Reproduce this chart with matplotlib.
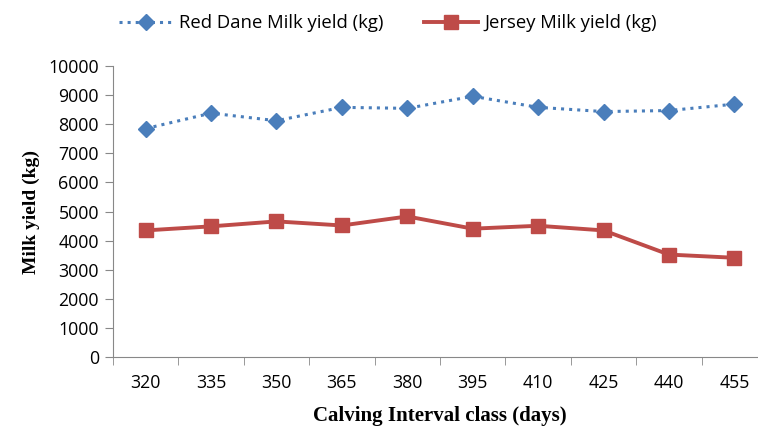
import matplotlib.pyplot as plt
import numpy as np

# Data
intervals = ["320", "335", "350", "365", "380", "395", "410", "425", "440", "455"]
red_dane = [7850, 8380, 8120, 8580, 8545, 8960, 8580, 8435, 8470, 8690]
jersey = [4350, 4490, 4660, 4520, 4830, 4410, 4510, 4350, 3520, 3410]
y_ticks = [0, 1000, 2000, 3000, 4000, 5000, 6000, 7000, 8000, 9000, 10000]


def make_chart():
    fig = plt.figure(figsize=(7.58, 4.26), dpi=100)
    # the plot area runs a little past the right edge of the picture
    ax = fig.add_axes([0.149, 0.162, 0.863, 0.683])

    x = np.arange(len(intervals))
    ax.plot(x, red_dane, linestyle=':', linewidth=2.2, color='#4a7ebb',
            marker='D', markersize=8.5, markerfacecolor='#4a7ebb',
            markeredgecolor='#4a7ebb', label='Red Dane Milk yield (kg)', clip_on=False)
    ax.plot(x, jersey, linestyle='-', linewidth=2.8, color='#be4b48',
            marker='s', markersize=10.5, markerfacecolor='#be4b48',
            markeredgecolor='#be4b48', label='Jersey Milk yield (kg)', clip_on=False)

    ax.set_xlim(-0.5, len(intervals) - 0.5)
    ax.set_ylim(0, 10000)
    ax.set_yticks(y_ticks)
    ax.set_yticklabels([str(v) for v in y_ticks], fontsize=12.8, family='Open Sans')

    # category labels centred, tick marks on the boundaries
    ax.set_xticks(x)
    ax.set_xticklabels(intervals, fontsize=12.8, family='Open Sans')
    ax.tick_params(axis='x', length=0, pad=12)
    ax.set_xticks(np.arange(-0.5, len(intervals)), minor=True)
    ax.tick_params(axis='x', which='minor', length=6, color='#888888', direction='out')
    ax.tick_params(axis='y', length=6, color='#888888', direction='out', pad=4)

    for side in ['top', 'right']:
        ax.spines[side].set_visible(False)
    for side in ['left', 'bottom']:
        ax.spines[side].set_color('#888888')

    ax.set_xlabel('Calving Interval class (days)', fontsize=15, fontweight='bold',
                  family='Liberation Serif', labelpad=10)
    ax.set_ylabel('Milk yield (kg)', fontsize=14, fontweight='bold',
                  family='Liberation Serif', labelpad=6)

    fig.legend(loc='center', bbox_to_anchor=(0.512, 0.946), ncol=2, frameon=False,
               prop={'family': 'Open Sans', 'size': 13.3}, columnspacing=2.2,
               handlelength=2.9, handletextpad=0.35)

    fig.savefig('out.png', dpi=100)


if __name__ == "__main__":
    make_chart()
